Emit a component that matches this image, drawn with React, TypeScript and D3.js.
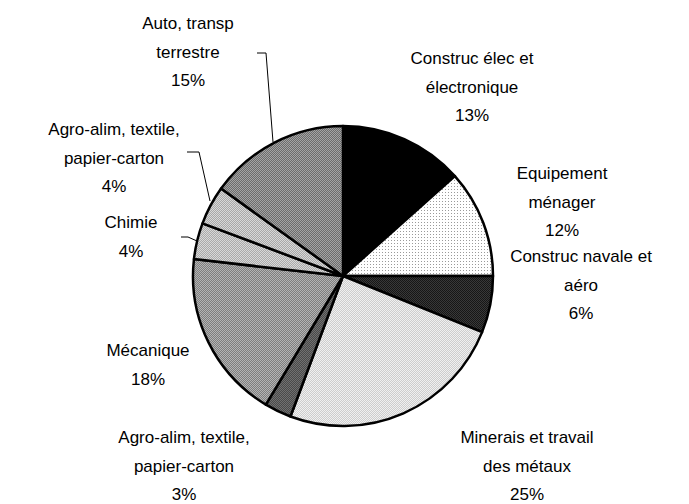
import React from "react";
import * as d3 from "d3";

const categories = [
  "Construc élec et électronique",
  "Equipement ménager",
  "Construc navale et aéro",
  "Minerais et travail des métaux",
  "Agro-alim, textile, papier-carton",
  "Mécanique",
  "Chimie",
  "Agro-alim, textile, papier-carton (2)",
  "Auto, transp terrestre",
];
const values = [13.4, 11.6, 6.1, 24.6, 2.9, 18.2, 3.9, 4.2, 15.1];
const percentLabels = ["13%", "12%", "6%", "25%", "3%", "18%", "4%", "4%", "15%"];
const labelLines = [
  ["Construc élec et", "électronique"],
  ["Equipement", "ménager"],
  ["Construc navale et", "aéro"],
  ["Minerais et travail", "des métaux"],
  ["Agro-alim, textile,", "papier-carton"],
  ["Mécanique"],
  ["Chimie"],
  ["Agro-alim, textile,", "papier-carton"],
  ["Auto, transp", "terrestre"],
];

const W = 689, H = 504;
const cx = 343, cy = 276, R = 150;

// pattern definitions: [base, dot, size]
const patterns: [string, string, number][] = [
  ["#000000", "#000000", 2],
  ["#ffffff", "#9a9a9a", 3],
  ["#161616", "#383838", 2],
  ["#f0f0f0", "#cdcdcd", 2],
  ["#707070", "#4a4a4a", 2],
  ["#b4b4b4", "#7e7e7e", 2],
  ["#d8d8d8", "#aaaaaa", 2],
  ["#d8d8d8", "#a8a8a8", 2],
  ["#a4a4a4", "#6c6c6c", 2],
];

// label anchor positions (center x, first line y)
const labelPos: [number, number][] = [
  [472, 64],
  [562, 179],
  [581, 262],
  [527, 443],
  [184, 443],
  [148, 356],
  [131, 228],
  [114, 135],
  [188, 29],
];

const leaders: [number, number][][] = [
  [[257, 53], [266, 53], [273, 142]],
  [[187, 152], [199, 152], [210, 201]],
  [[181, 237], [188, 237], [197, 241]],
];

export default function App() {
  const pie = d3.pie<number>().sort(null).value((d) => d)(values);
  const arc = d3.arc<d3.PieArcDatum<number>>().innerRadius(0).outerRadius(R);
  const lineGen = d3.line();
  const lh = 28.5;
  return (
    <svg width={W} height={H} style={{ position: "absolute", left: 0, top: 0 }}>
      <defs>
        {patterns.map(([base, dot, s], i) => (
          <pattern key={i} id={`p${i}`} width={s} height={s} patternUnits="userSpaceOnUse">
            <rect width={s} height={s} fill={base} />
            <rect width={1} height={1} fill={dot} />
            {s === 2 && <rect x={1} y={1} width={1} height={1} fill={dot} />}
          </pattern>
        ))}
      </defs>
      <rect width={W} height={H} fill="#fff" />
      <g transform={`translate(${cx},${cy})`}>
        {pie.map((d, i) => (
          <path key={categories[i]} d={arc(d) || ""} fill={`url(#p${i})`} stroke="#000" strokeWidth={2.5} strokeLinejoin="round" />
        ))}
      </g>
      {leaders.map((pts, i) => (
        <path key={i} d={lineGen(pts) || ""} fill="none" stroke="#000" strokeWidth={1} />
      ))}
      <g fontFamily="'Liberation Sans', Arial, sans-serif" fontSize={17} fill="#000" textAnchor="middle">
        {labelLines.map((lines, i) => {
          const [x, y] = labelPos[i];
          const all = [...lines, percentLabels[i]];
          return (
            <text key={i}>
              {all.map((t, j) => (
                <tspan key={j} x={x} y={y + j * lh}>{t}</tspan>
              ))}
            </text>
          );
        })}
      </g>
    </svg>
  );
}
